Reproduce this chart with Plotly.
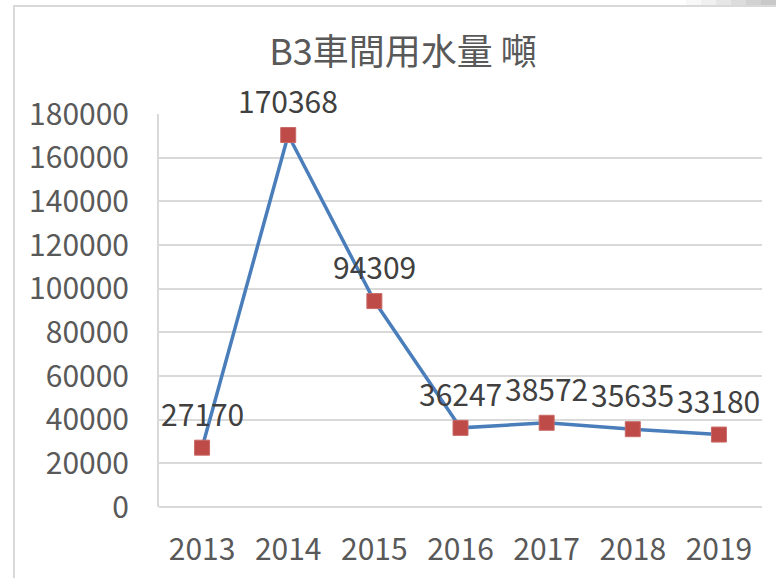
import plotly.graph_objects as go

years = ["2013", "2014", "2015", "2016", "2017", "2018", "2019"]
water_tons = [27170, 170368, 94309, 36247, 38572, 35635, 33180]
y_ticks = [0, 20000, 40000, 60000, 80000, 100000, 120000, 140000, 160000, 180000]
title_text = "B3車間用水量 噸"

FONT = "Noto Sans CJK TC"
W, H = 776, 578
L, R, T, B = 159, 14, 114, 71
pw, ph = W - L - R, H - T - B

def px(x):
    return (x - L) / pw

def py(y):
    return (H - B - y) / ph

fig = go.Figure()
fig.add_trace(go.Scatter(
    x=years, y=water_tons,
    mode="lines+markers",
    line=dict(color="#4A7EBB", width=3.5),
    marker=dict(symbol="square", size=15, color="#BE4B48",
                line=dict(color="#C86A67", width=1)),
    cliponaxis=False,
    hoverinfo="x+y",
))

# data labels; category axis positions are given by category index
annotations = [
    dict(x=i, y=v, xref="x", yref="y", text=str(v), showarrow=False,
         yanchor="middle", xanchor="center", yshift=35,
         font=dict(family=FONT, size=30, color="#404040"))
    for i, v in enumerate(water_tons)
]

shapes = [
    dict(type="rect", xref="paper", yref="paper",
         x0=px(14), x1=px(800), y0=py(600), y1=py(6),
         line=dict(color="#D9D9D9", width=2), fillcolor="rgba(0,0,0,0)", layer="below"),
]
grays = ["#F8F8F8", "#F0F0F0", "#E6E6E6", "#DCDCDC", "#D2D2D2", "#C8C8C8"]
for i, g in enumerate(grays):
    x0 = 686 + i * 15
    shapes.append(dict(type="rect", xref="paper", yref="paper",
                       x0=px(x0), x1=px(x0 + 15 if i < 5 else 776), y0=py(5), y1=py(0),
                       line=dict(width=0), fillcolor=g, layer="below"))

fig.update_layout(
    width=W, height=H,
    margin=dict(l=L, r=R, t=T, b=B, autoexpand=False),
    paper_bgcolor="white", plot_bgcolor="white",
    showlegend=False,
    title=dict(text=title_text, font=dict(family=FONT, size=36, color="#595959"),
               xref="container", yref="container", x=403 / W, y=1 - 52 / H,
               xanchor="center", yanchor="middle"),
    shapes=shapes,
    annotations=annotations,
    xaxis=dict(type="category", range=[-0.5, 6.5], showgrid=False, zeroline=False,
               showline=False, ticks="", ticklabelstandoff=22, automargin=False,
               tickfont=dict(family=FONT, size=30, color="#595959")),
    yaxis=dict(range=[0, 180000], tickvals=y_ticks, ticktext=[str(v) for v in y_ticks],
               showgrid=True, gridcolor="#D9D9D9", gridwidth=1.5,
               zeroline=True, zerolinecolor="#D9D9D9", zerolinewidth=1.5,
               showline=True, linecolor="#D9D9D9", linewidth=2, mirror=False,
               ticks="", ticklabelstandoff=22, automargin=False,
               tickfont=dict(family=FONT, size=30, color="#595959")),
)

fig.write_html("out.html", config={"displayModeBar": False},
               post_script="document.body.style.margin='0';")
